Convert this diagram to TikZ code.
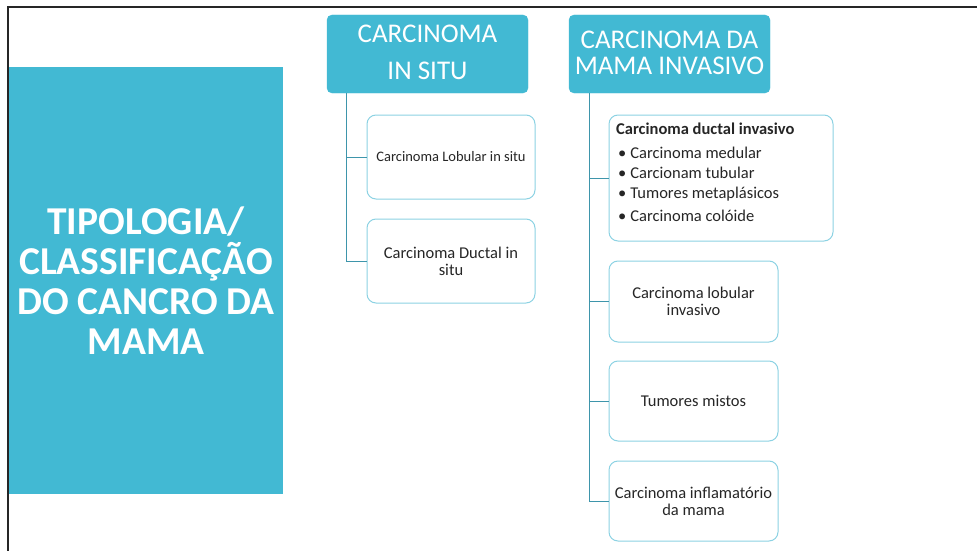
\documentclass[tikz,border=0pt]{standalone}
\usepackage{fontspec}
\setmainfont{Carlito}
\definecolor{tealfill}{HTML}{42B9D3}
\definecolor{boxedge}{HTML}{8CD2E3}
\definecolor{treeline}{HTML}{3E95AB}
\definecolor{txt}{HTML}{262626}
\tikzset{
  titlebox/.style={rectangle, fill=tealfill, draw=none, inner sep=0pt, outer sep=0pt, anchor=north west,
    text=white, align=center, font=\bfseries\fontsize{39.5}{40}\selectfont},
  headbox/.style={rectangle, rounded corners=5pt, fill=tealfill, draw=tealfill, inner sep=0pt, outer sep=0pt,
    anchor=north west, text=white, align=center},
  childbox/.style={rectangle, rounded corners=9pt, fill=white, draw=boxedge, line width=1pt, inner sep=0pt, outer sep=0pt,
    anchor=north west, text=txt, align=center, font=\fontsize{16.5}{17}\selectfont},
  treeln/.style={draw=treeline, line width=1pt},
}
\begin{document}
\begin{tikzpicture}[x=1pt,y=-1pt]
\useasboundingbox (0,0) rectangle (977,551);
\draw[line width=1.6pt, black!85] (8,551) -- (8,7) -- (977,7);

\node[titlebox, minimum width=274pt, minimum height=427pt] (title) at (9,67)
  {TIPOLOGIA/\\CLASSIFICAÇÃO\\DO CANCRO DA\\MAMA};

\node[headbox, minimum width=201pt, minimum height=78pt, font=\fontsize{27}{37}\selectfont] (h1) at (327,15)
  {\raisebox{3pt}{CARCINOMA}\\\raisebox{3pt}{IN SITU}};
\node[headbox, minimum width=201pt, minimum height=78pt, font=\fontsize{27}{26}\selectfont] (h2) at (569,15)
  {\raisebox{3pt}{CARCINOMA DA}\\\raisebox{3pt}{MAMA INVASIVO}};

\node[childbox, minimum width=168pt, minimum height=84pt, font=\fontsize{14.5}{16}\selectfont] (c1) at (367,115)
  {Carcinoma Lobular in situ};
\node[childbox, minimum width=168pt, minimum height=84pt] (c2) at (367,219)
  {Carcinoma Ductal in\\situ};

\node[childbox, minimum width=224pt, minimum height=126pt] (d1) at (609,115) {};
\node[anchor=north west, inner sep=0pt, align=left, text=txt, font=\fontsize{16.5}{20}\selectfont] (d1text) at (616,123)
  {\textbf{Carcinoma ductal invasivo}\\[4pt]
   \hspace{2pt}\textbullet\hspace{4pt}Carcinoma medular\\
   \hspace{2pt}\textbullet\hspace{4pt}Carcionam tubular\\
   \hspace{2pt}\textbullet\hspace{4pt}Tumores metaplásicos\\[3pt]
   \hspace{2pt}\textbullet\hspace{4pt}Carcinoma colóide};
\node[childbox, minimum width=169pt, minimum height=81pt] (d2) at (609,261)
  {Carcinoma lobular\\invasivo};
\node[childbox, minimum width=169pt, minimum height=80pt] (d3) at (609,361)
  {Tumores mistos};
\node[childbox, minimum width=169pt, minimum height=80pt] (d4) at (609,461)
  {Carcinoma inflamatório\\da mama};

\coordinate (t1) at ([xshift=19pt]h1.south west);
\coordinate (t2) at ([xshift=20pt]h2.south west);
\draw[treeln] (t1) |- (c1.west);
\draw[treeln] (t1) |- (c2.west);
\draw[treeln] (t2) |- (d1.west);
\draw[treeln] (t2) |- (d2.west);
\draw[treeln] (t2) |- (d3.west);
\draw[treeln] (t2) |- (d4.west);
\end{tikzpicture}
\end{document}
